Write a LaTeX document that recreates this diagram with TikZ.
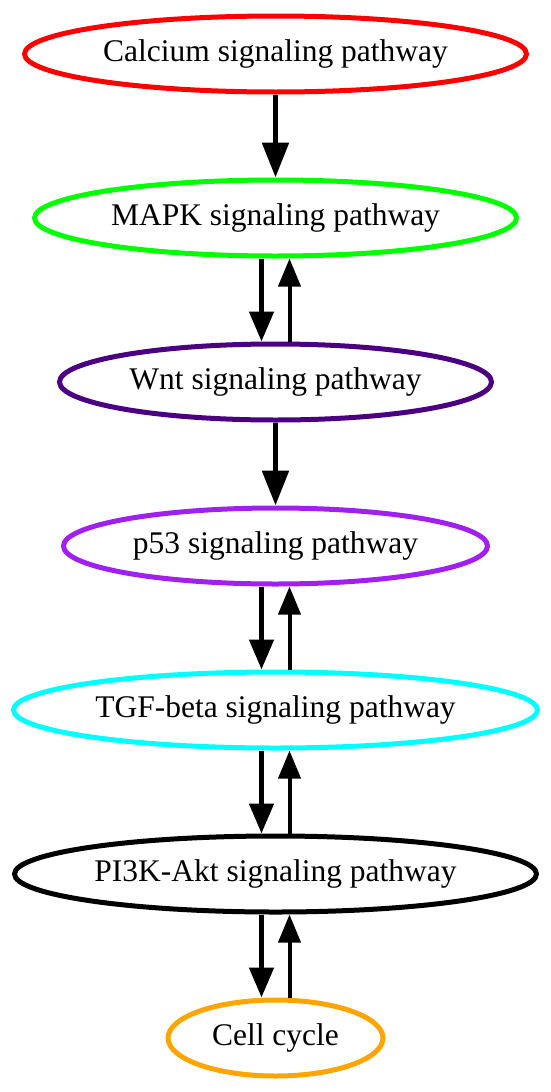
\documentclass[tikz,border=0pt]{standalone}
\usepackage{fontspec}
\setmainfont{Liberation Serif}
\usetikzlibrary{shapes.geometric, arrows.meta, positioning}
\definecolor{pathred}{RGB}{255,0,0}
\definecolor{pathgreen}{RGB}{0,255,0}
\definecolor{pathindigo}{RGB}{75,0,130}
\definecolor{pathpurple}{RGB}{160,32,240}
\definecolor{pathcyan}{RGB}{0,255,255}
\definecolor{pathorange}{RGB}{255,165,0}

\begin{document}
\begin{tikzpicture}[
  on grid, node distance=164pt,
  pbox/.style={ellipse, draw, line width=5pt, inner sep=0pt,
               minimum height=76pt, fill=white,
               font=\fontsize{31.5}{36}\selectfont},
  arrow/.style={-{Triangle[length=35pt,width=26pt]}, line width=5.5pt},
  fwd/.style={-{Triangle[length=30pt,width=24pt]}, line width=5pt},
  back/.style={-{Triangle[length=28pt,width=22pt]}, line width=4pt},
]
\useasboundingbox (0,0) rectangle (550pt,-1092pt);

%% Pathway nodes, top to bottom
\node[pbox, draw=pathred, minimum width=502pt] (calcium) at (275.5pt,-54pt) {Calcium signaling pathway};
\node[pbox, draw=pathgreen, minimum width=482pt, below=of calcium] (mapk) {MAPK signaling pathway};
\node[pbox, draw=pathindigo, minimum width=432pt, below=of mapk] (wnt) {Wnt signaling pathway};
\node[pbox, draw=pathpurple, minimum width=424pt, below=of wnt] (p53) {p53 signaling pathway};
\node[pbox, draw=pathcyan, minimum width=524pt, below=of p53] (tgf) {TGF-beta signaling pathway};
\node[pbox, draw=black, minimum width=522pt, below=of tgf] (pi3k) {PI3K-Akt signaling pathway};
\node[pbox, draw=pathorange, minimum width=215pt, below=of pi3k] (cell) {Cell cycle};

%% Single edges
\draw[arrow] (calcium) -- (mapk);
\draw[arrow] (wnt) -- (p53);

%% Edges in both directions
\draw[fwd]  ([xshift=-14pt]mapk.south) -- ([xshift=-14pt]wnt.north);
\draw[back] ([xshift=14pt]wnt.north)   -- ([xshift=14pt]mapk.south);
\draw[fwd]  ([xshift=-14pt]p53.south)  -- ([xshift=-14pt]tgf.north);
\draw[back] ([xshift=14pt]tgf.north)   -- ([xshift=14pt]p53.south);
\draw[fwd]  ([xshift=-14pt]tgf.south)  -- ([xshift=-14pt]pi3k.north);
\draw[back] ([xshift=14pt]pi3k.north)  -- ([xshift=14pt]tgf.south);
\draw[fwd]  ([xshift=-14pt]pi3k.south) -- ([xshift=-14pt]cell.north);
\draw[back] ([xshift=14pt]cell.north)  -- ([xshift=14pt]pi3k.south);

\end{tikzpicture}
\end{document}
